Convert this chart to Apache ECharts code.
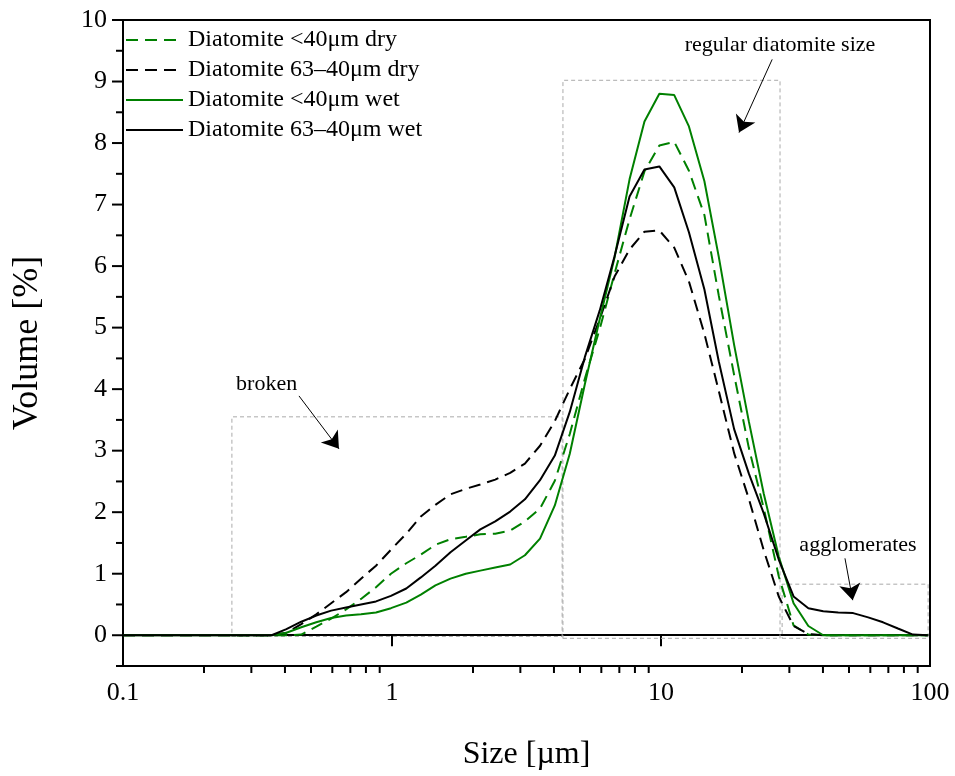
<!DOCTYPE html>
<html>
<head>
<meta charset="utf-8">
<title>Diatomite size distribution</title>
<script src="https://cdn.jsdelivr.net/npm/echarts@6/dist/echarts.min.js"></script>
<style>
  html, body { margin: 0; padding: 0; background: #fff; }
  #chart { width: 955px; height: 776px; }
</style>
</head>
<body>
<div id="chart"></div>
<script>
// particle size bins [µm]
const sizes = [0.1, 0.113, 0.128, 0.146, 0.166, 0.188, 0.214, 0.243, 0.276, 0.314,
  0.357, 0.405, 0.46, 0.523, 0.594, 0.675, 0.767, 0.872, 0.991, 1.13,
  1.28, 1.45, 1.65, 1.88, 2.13, 2.42, 2.75, 3.12, 3.55, 4.03,
  4.58, 5.21, 5.92, 6.72, 7.64, 8.68, 9.86, 11.2, 12.7, 14.5,
  16.4, 18.7, 21.2, 24.1, 27.4, 31.1, 35.3, 40.1, 45.6, 51.8,
  58.9, 66.9, 76.0, 86.4, 98.1];

// volume [%]
const fineDry = [0, 0, 0, 0, 0, 0, 0, 0, 0, 0,
  0, 0, 0.01, 0.14, 0.27, 0.42, 0.59, 0.78, 1.0, 1.17,
  1.31, 1.47, 1.56, 1.6, 1.64, 1.65, 1.7, 1.85, 2.06, 2.51,
  3.27, 4.17, 4.98, 5.88, 6.76, 7.54, 7.96, 8.02, 7.55, 6.83,
  5.52, 4.23, 3.05, 2.06, 0.96, 0.16, 0.01, 0, 0, 0,
  0, 0, 0, 0, 0];
const coarseDry = [0, 0, 0, 0, 0, 0, 0, 0, 0, 0,
  0, 0.04, 0.18, 0.34, 0.52, 0.7, 0.92, 1.13, 1.39, 1.65,
  1.93, 2.12, 2.29, 2.38, 2.45, 2.53, 2.64, 2.79, 3.08, 3.48,
  4.0, 4.49, 5.14, 5.83, 6.27, 6.56, 6.58, 6.3, 5.75, 4.9,
  3.97, 2.96, 2.22, 1.38, 0.63, 0.15, 0.02, 0, 0, 0,
  0, 0, 0, 0, 0];
const fineWet = [0, 0, 0, 0, 0, 0, 0, 0, 0, 0,
  0, 0.04, 0.13, 0.21, 0.28, 0.32, 0.34, 0.37, 0.44, 0.53,
  0.66, 0.81, 0.92, 1.0, 1.05, 1.1, 1.15, 1.3, 1.57, 2.11,
  2.95, 4.08, 5.14, 6.14, 7.41, 8.35, 8.8, 8.78, 8.27, 7.38,
  6.15, 4.72, 3.48, 2.3, 1.28, 0.52, 0.15, 0, 0, 0,
  0, 0, 0, 0, 0];
const coarseWet = [0, 0, 0, 0, 0, 0, 0, 0, 0, 0,
  0, 0.1, 0.22, 0.32, 0.4, 0.45, 0.5, 0.55, 0.64, 0.76,
  0.94, 1.13, 1.35, 1.54, 1.72, 1.85, 2.01, 2.21, 2.52, 2.92,
  3.63, 4.52, 5.28, 6.16, 7.13, 7.57, 7.62, 7.28, 6.55, 5.62,
  4.45, 3.35, 2.63, 1.98, 1.23, 0.63, 0.44, 0.39, 0.37, 0.36,
  0.29, 0.21, 0.11, 0.01, 0];

// tick marks
const xMinorTicks = [0.2, 0.3, 0.4, 0.5, 0.6, 0.7, 0.8, 0.9, 2, 3, 4, 5, 6, 7, 8, 9,
  20, 30, 40, 50, 60, 70, 80, 90];
const yMajorTicks = [0, 1, 2, 3, 4, 5, 6, 7, 8, 9, 10];
const yMinorTicks = [-0.5, 0.5, 1.5, 2.5, 3.5, 4.5, 5.5, 6.5, 7.5, 8.5, 9.5];

// annotation boxes: [xFrom, yFrom, xTo, yTo]
const boxes = [
  [0.254, -0.02, 4.29, 3.55],
  [4.32, -0.05, 27.7, 9.02],
  [28.2, -0.05, 98.4, 0.83]
];
// arrows: [xFrom, yFrom, xTo, yTo]
const arrows = [
  [0.451, 3.89, 0.635, 3.03],
  [25.9, 9.36, 19.5, 8.17],
  [48.3, 1.25, 51.6, 0.57]
];
// labels: [x, y, text]
const notes = [
  [0.342, 4.08, 'broken'],
  [27.7, 9.59, 'regular diatomite size'],
  [54.0, 1.46, 'agglomerates']
];

const names = ['Diatomite <40μm dry', 'Diatomite 63–40μm dry', 'Diatomite <40μm wet', 'Diatomite 63–40μm wet'];
const green = '#008000';
const serif = 'Liberation Serif';

function pairs(vals) {
  return sizes.map((s, i) => [s, vals[i]]);
}

function lineSeries(name, vals, color, dashed) {
  return {
    name: name,
    type: 'line',
    data: pairs(vals),
    showSymbol: false,
    symbol: 'none',
    smooth: false,
    color: color,
    lineStyle: { color: color, width: 2, type: dashed ? [12, 7] : 'solid' },
    z: 5
  };
}

const chart = echarts.init(document.getElementById('chart'));

const s0 = lineSeries(names[0], fineDry, green, true);
s0.markArea = {
  silent: true,
  itemStyle: { color: 'rgba(0,0,0,0)', borderColor: '#aaa', borderWidth: 1, borderType: [4, 3] },
  data: boxes.map(b => [{ coord: [b[0], b[1]] }, { coord: [b[2], b[3]] }])
};
s0.markLine = {
  silent: true,
  symbol: ['none', 'arrow'],
  symbolSize: 16,
  label: { show: false },
  lineStyle: { color: '#000', width: 1, type: 'solid' },
  itemStyle: { color: '#000' },
  data: arrows.map(a => [{ coord: [a[0], a[1]] }, { coord: [a[2], a[3]] }])
};

chart.setOption({
  animation: false,
  backgroundColor: '#fff',
  grid: {
    left: 123, right: 25, top: 20, bottom: 108,
    show: true, borderColor: '#000', borderWidth: 2
  },
  legend: {
    data: names,
    orient: 'vertical',
    left: 120,
    top: 23,
    itemWidth: 57,
    itemHeight: 14,
    itemGap: 6,
    itemStyle: { opacity: 0 },
    textStyle: { fontFamily: serif, fontSize: 24, color: '#000' }
  },
  xAxis: {
    type: 'log',
    logBase: 10,
    min: 0.1,
    max: 100,
    name: 'Size [µm]',
    nameLocation: 'middle',
    nameGap: 73,
    nameTextStyle: { fontFamily: serif, fontSize: 32, color: '#000' },
    axisLine: { lineStyle: { color: '#000', width: 2 } },
    axisTick: { length: 11, lineStyle: { color: '#000', width: 2 } },
    axisLabel: {
      fontFamily: serif, fontSize: 26, color: '#000', margin: 14,
      formatter: v => String(v)
    },
    splitLine: { show: false }
  },
  yAxis: {
    type: 'value',
    min: -0.5,
    max: 10,
    interval: 0.5,
    name: 'Volume [%]',
    nameLocation: 'middle',
    nameGap: 77,
    nameTextStyle: { fontFamily: serif, fontSize: 36, color: '#000' },
    axisLine: { lineStyle: { color: '#000', width: 2 } },
    axisTick: { show: false },
    axisLabel: {
      fontFamily: serif, fontSize: 26, color: '#000', margin: 16,
      formatter: v => (Number.isInteger(v) ? String(v) : '')
    },
    splitLine: { show: false }
  },
  series: [
    s0,
    lineSeries(names[1], coarseDry, '#000', true),
    lineSeries(names[2], fineWet, green, false),
    lineSeries(names[3], coarseWet, '#000', false),
    {
      // minor ticks on the log axis
      type: 'custom',
      silent: true,
      clip: false,
      data: xMinorTicks.map(v => [v, -0.5]),
      renderItem: function (params, api) {
        const p = api.coord([api.value(0), api.value(1)]);
        return {
          type: 'line',
          shape: { x1: p[0], y1: p[1], x2: p[0], y2: p[1] + 7 },
          style: { stroke: '#000', lineWidth: 2 }
        };
      }
    },
    {
      // y ticks, long on integers and short on halves
      type: 'custom',
      silent: true,
      clip: false,
      data: yMajorTicks.map(v => [0.1, v, 11]).concat(yMinorTicks.map(v => [0.1, v, 7])),
      renderItem: function (params, api) {
        const p = api.coord([api.value(0), api.value(1)]);
        return {
          type: 'line',
          shape: { x1: p[0] - api.value(2), y1: p[1], x2: p[0], y2: p[1] },
          style: { stroke: '#000', lineWidth: 2 }
        };
      }
    },
    {
      // annotation texts
      type: 'custom',
      silent: true,
      clip: false,
      data: notes,
      renderItem: function (params, api) {
        const p = api.coord([api.value(0), api.value(1)]);
        return {
          type: 'text',
          x: p[0],
          y: p[1],
          style: {
            text: notes[params.dataIndex][2],
            fill: '#000',
            font: '22px "Liberation Serif"',
            align: 'center',
            verticalAlign: 'middle'
          }
        };
      }
    }
  ]
});
</script>
</body>
</html>
